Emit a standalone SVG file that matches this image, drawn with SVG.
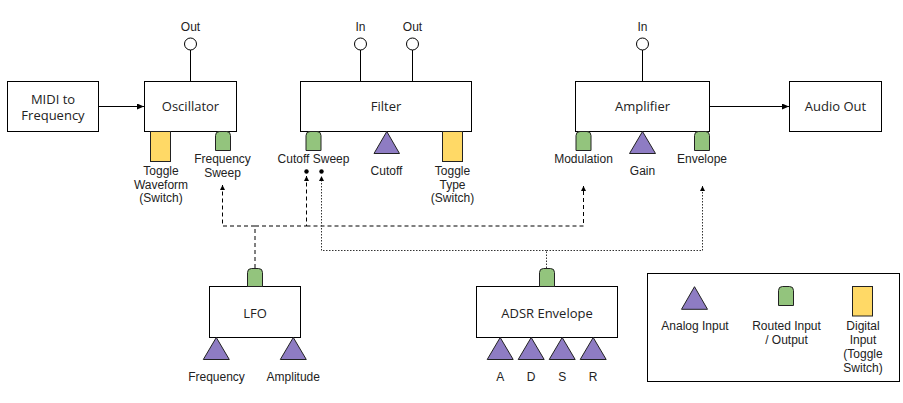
<svg xmlns="http://www.w3.org/2000/svg" width="903" height="403" viewBox="0 0 903 403">
<style>
.box{fill:#fff;stroke:#000;stroke-width:1}
.bl{font-family:"Open Sans","Liberation Sans",sans-serif;font-size:13px;fill:#222;text-anchor:middle}
.sl{font-family:"Liberation Sans",Arial,sans-serif;font-size:12px;fill:#222;text-anchor:middle}
.tri{fill:#8e7cc3;stroke:#222;stroke-width:1}
.grn{fill:#93c47d;stroke:#222;stroke-width:1}
.yel{fill:#ffd966;stroke:#222;stroke-width:1}
.port{fill:#fff;stroke:#000;stroke-width:1}
.wire{fill:none;stroke:#000;stroke-width:1}
.dash{fill:none;stroke:#000;stroke-width:1;stroke-dasharray:4 3}
.dot{fill:none;stroke:#333;stroke-width:1;stroke-dasharray:1.5 1.5}
</style>
<defs>
<marker id="arr" markerUnits="userSpaceOnUse" markerWidth="8" markerHeight="8" refX="7" refY="3" orient="auto">
<path d="M0,0 L7,3 L0,6 Z" fill="#000"/>
</marker>
<marker id="arrs" markerUnits="userSpaceOnUse" markerWidth="6" markerHeight="6" refX="5" refY="2.5" orient="auto">
<path d="M0,0 L5,2.5 L0,5 Z" fill="#000"/>
</marker>
</defs>

<g id="connectors">
<path class="wire" d="M98.5,106.5 H144" marker-end="url(#arr)"/>
<path class="wire" d="M709.5,106.5 H789" marker-end="url(#arr)"/>
<path class="dash" d="M255,268 V226"/>
<path class="dash" d="M255,226 H222.5 V185" marker-end="url(#arrs)"/>
<path class="dash" d="M255,226 H306.5 V176" marker-end="url(#arrs)"/>
<path class="dash" d="M306.5,226 H583.5 V186" marker-end="url(#arrs)"/>
<path class="dot" d="M546.5,268 V250.5"/>
<path class="dot" d="M546.5,250.5 H321.5 V176" marker-end="url(#arrs)"/>
<path class="dot" d="M546.5,250.5 H702.5 V186" marker-end="url(#arrs)"/>
<circle cx="306.5" cy="171.5" r="2.2" fill="#000"/>
<circle cx="321.5" cy="171.5" r="2.2" fill="#000"/>
</g>

<g id="midi">
<rect class="box" x="7.5" y="81.5" width="91" height="50"/>
<text class="bl" x="53" y="103.5">MIDI to</text>
<text class="bl" x="53" y="119.5">Frequency</text>
</g>

<g id="oscillator">
<rect class="box" x="144.5" y="81.5" width="92" height="50"/>
<text class="bl" x="190.5" y="111">Oscillator</text>
<line class="wire" x1="190.5" y1="50" x2="190.5" y2="81.5"/>
<circle class="port" cx="190.5" cy="44" r="6"/>
<text class="sl" x="190.5" y="30.5">Out</text>
<rect class="yel" x="150.5" y="131.5" width="20" height="30"/>
<text class="sl" x="161" y="175">Toggle</text>
<text class="sl" x="161" y="188.7">Waveform</text>
<text class="sl" x="161" y="202.4">(Switch)</text>
<path class="grn" d="M215.5,150.5 V135.5 Q215.5,131.5 219.5,131.5 H226.5 Q230.5,131.5 230.5,135.5 V150.5 Z"/>
<text class="sl" x="222.5" y="163">Frequency</text>
<text class="sl" x="222.5" y="176.7">Sweep</text>
</g>

<g id="filter">
<rect class="box" x="300.5" y="81.5" width="171" height="50"/>
<text class="bl" x="386" y="111">Filter</text>
<line class="wire" x1="360.5" y1="50" x2="360.5" y2="81.5"/>
<circle class="port" cx="360.5" cy="44" r="6"/>
<text class="sl" x="360.5" y="30.5">In</text>
<line class="wire" x1="412.5" y1="50" x2="412.5" y2="81.5"/>
<circle class="port" cx="412.5" cy="44" r="6"/>
<text class="sl" x="412.5" y="30.5">Out</text>
<path class="grn" d="M306,150.5 V135.5 Q306,131.5 310,131.5 H317 Q321,131.5 321,135.5 V150.5 Z"/>
<text class="sl" x="313.5" y="163">Cutoff Sweep</text>
<path class="tri" d="M386.8,131.5 L399.5,153.5 L374,153.5 Z"/>
<text class="sl" x="386.5" y="174.5">Cutoff</text>
<rect class="yel" x="442.5" y="131.5" width="20" height="30"/>
<text class="sl" x="452.5" y="175">Toggle</text>
<text class="sl" x="452.5" y="188.7">Type</text>
<text class="sl" x="452.5" y="202.4">(Switch)</text>
</g>

<g id="amplifier">
<rect class="box" x="575.5" y="81.5" width="134" height="50"/>
<text class="bl" x="642.5" y="111">Amplifier</text>
<line class="wire" x1="642.5" y1="50" x2="642.5" y2="81.5"/>
<circle class="port" cx="642.5" cy="44" r="6"/>
<text class="sl" x="642.5" y="30.5">In</text>
<path class="grn" d="M576,150.5 V135.5 Q576,131.5 580,131.5 H587 Q591,131.5 591,135.5 V150.5 Z"/>
<text class="sl" x="583.5" y="163">Modulation</text>
<path class="tri" d="M642.5,131.5 L655.5,153.5 L629.5,153.5 Z"/>
<text class="sl" x="642.5" y="174.5">Gain</text>
<path class="grn" d="M694.5,150.5 V135.5 Q694.5,131.5 698.5,131.5 H705.5 Q709.5,131.5 709.5,135.5 V150.5 Z"/>
<text class="sl" x="702" y="163">Envelope</text>
</g>

<g id="audio-out">
<rect class="box" x="789.5" y="81.5" width="92" height="50"/>
<text class="bl" x="835.5" y="111">Audio Out</text>
</g>

<g id="lfo">
<rect class="box" x="209.5" y="286.5" width="91" height="51"/>
<text class="bl" x="255" y="317.5">LFO</text>
<path class="grn" d="M247.5,286.5 V272.5 Q247.5,268.5 251.5,268.5 H258.5 Q262.5,268.5 262.5,272.5 V286.5 Z"/>
<path class="tri" d="M216.3,337.5 L229.3,359.5 L203.3,359.5 Z"/>
<path class="tri" d="M293.3,337.5 L306.3,359.5 L280.3,359.5 Z"/>
<text class="sl" x="216.5" y="381">Frequency</text>
<text class="sl" x="293.3" y="381">Amplitude</text>
</g>

<g id="adsr">
<rect class="box" x="476.5" y="286.5" width="141" height="51"/>
<text class="bl" x="547" y="317.5">ADSR Envelope</text>
<path class="grn" d="M539.5,286.5 V272.5 Q539.5,268.5 543.5,268.5 H550.5 Q554.5,268.5 554.5,272.5 V286.5 Z"/>
<path class="tri" d="M500.2,337.5 L513.2,359.5 L487.2,359.5 Z"/>
<path class="tri" d="M531.2,337.5 L544.2,359.5 L518.2,359.5 Z"/>
<path class="tri" d="M562.2,337.5 L575.2,359.5 L549.2,359.5 Z"/>
<path class="tri" d="M593.2,337.5 L606.2,359.5 L580.2,359.5 Z"/>
<text class="sl" x="500.2" y="381">A</text>
<text class="sl" x="531.2" y="381">D</text>
<text class="sl" x="562.2" y="381">S</text>
<text class="sl" x="593.2" y="381">R</text>
</g>

<g id="legend">
<rect class="box" x="647.5" y="273.5" width="252" height="108"/>
<path class="tri" d="M694.5,286.7 L707.5,309.3 L681.5,309.3 Z"/>
<text class="sl" x="695" y="330">Analog Input</text>
<path class="grn" d="M778.5,305.5 V290.5 Q778.5,286.5 782.5,286.5 H789.5 Q793.5,286.5 793.5,290.5 V305.5 Z"/>
<text class="sl" x="786.5" y="330">Routed Input</text>
<text class="sl" x="786.5" y="344.3">/ Output</text>
<rect class="yel" x="852.5" y="286.5" width="20" height="29.5"/>
<text class="sl" x="863" y="330">Digital</text>
<text class="sl" x="863" y="344.3">Input</text>
<text class="sl" x="863" y="357.8">(Toggle</text>
<text class="sl" x="863" y="371.5">Switch)</text>
</g>
</svg>
